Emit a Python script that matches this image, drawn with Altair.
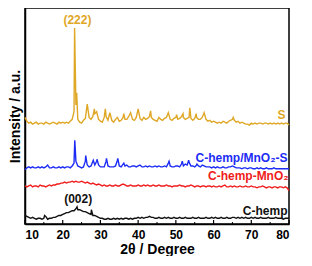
import altair as alt
import pandas as pd

# ---- data (heights in arbitrary intensity units) ----
X_GRID = [
    10.0, 10.5, 11.0, 11.5, 12.0, 12.5, 13.0, 13.5, 14.0, 14.5,
    15.0, 15.5, 16.0, 16.5, 17.0, 17.5, 18.0, 18.5, 19.0, 19.5,
    20.0, 20.5, 21.0, 21.5, 22.0, 22.5, 23.0, 23.5, 24.0, 24.5,
    25.0, 25.5, 26.0, 26.5, 27.0, 27.5, 28.0, 28.5, 29.0, 29.5,
    30.0, 30.5, 31.0, 31.5, 32.0, 32.5, 33.0, 33.5, 34.0, 34.5,
    35.0, 35.5, 36.0, 36.5, 37.0, 37.5, 38.0, 38.5, 39.0, 39.5,
    40.0, 40.5, 41.0, 41.5, 42.0, 42.5, 43.0, 43.5, 44.0, 44.5,
    45.0, 45.5, 46.0, 46.5, 47.0, 47.5, 48.0, 48.5, 49.0, 49.5,
    50.0, 50.5, 51.0, 51.5, 52.0, 52.5, 53.0, 53.5, 54.0, 54.5,
    55.0, 55.5, 56.0, 56.5, 57.0, 57.5, 58.0, 58.5, 59.0, 59.5,
    60.0, 60.5, 61.0, 61.5, 62.0, 62.5, 63.0, 63.5, 64.0, 64.5,
    65.0, 65.5, 66.0, 66.5, 67.0, 67.5, 68.0, 68.5, 69.0, 69.5,
    70.0, 70.5, 71.0, 71.5, 72.0, 72.5, 73.0, 73.5, 74.0, 74.5,
    75.0, 75.5, 76.0, 76.5, 77.0, 77.5, 78.0, 78.5, 79.0, 79.5,
    80.0,
]

C_HEMP = [
    9, 8, 7, 6, 7, 6, 5, 6, 6, 5,
    6, 8, 5, 6, 6, 7, 7, 8, 9, 9,
    10, 11, 12, 12, 13, 14, 14, 16, 15, 15,
    14, 13, 13, 12, 11, 10, 9, 9, 8, 7,
    6, 6, 5, 5, 6, 5, 5, 6, 5, 6,
    5, 6, 5, 6, 6, 5, 6, 5, 6, 6,
    7, 6, 7, 6, 7, 7, 8, 7, 7, 6,
    6, 7, 6, 6, 7, 6, 7, 6, 6, 7,
    6, 6, 7, 6, 6, 7, 6, 6, 6, 7,
    6, 6, 7, 6, 6, 6, 7, 6, 6, 7,
    6, 7, 6, 6, 7, 6, 6, 7, 6, 6,
    7, 7, 6, 7, 6, 7, 6, 7, 6, 6,
    7, 6, 7, 6, 6, 7, 6, 6, 6, 7,
    6, 6, 6, 7, 6, 6, 6, 5, 6, 6,
    6,
]
C_HEMP_PEAK_X = [15.2, 23.8, 27.6]
C_HEMP_PEAK_Y = [9, 18, 15]

C_HEMP_MNO2 = [
    40, 39, 40, 41, 39, 40, 40, 39, 41, 40,
    40, 39, 40, 41, 40, 41, 41, 42, 42, 43,
    43, 44, 43, 44, 44, 45, 44, 45, 44, 44,
    45, 44, 43, 44, 43, 42, 43, 42, 41, 42,
    41, 40, 41, 40, 40, 41, 40, 40, 41, 40,
    40, 41, 42, 41, 40, 40, 41, 40, 40, 40,
    41, 40, 40, 41, 40, 41, 40, 40, 41, 40,
    40, 41, 40, 40, 40, 41, 40, 40, 39, 40,
    40, 40, 41, 40, 40, 39, 40, 40, 41, 40,
    39, 40, 40, 39, 40, 40, 39, 40, 40, 39,
    40, 39, 39, 40, 39, 40, 41, 39, 39, 40,
    39, 40, 39, 39, 40, 39, 39, 40, 39, 39,
    40, 39, 39, 38, 39, 39, 40, 39, 38, 39,
    39, 38, 39, 39, 38, 39, 39, 38, 39, 38,
    35,
]

C_HEMP_MNO2_S = [
    57, 59, 60, 59, 60, 59, 59, 60, 59, 60,
    59, 60, 62, 59, 59, 60, 59, 59, 60, 59,
    60, 59, 60, 60, 59, 61, 64, 66, 61, 60,
    59, 60, 66, 62, 60, 61, 66, 62, 66, 62,
    60, 60, 60, 66, 61, 60, 60, 60, 61, 67,
    61, 60, 63, 61, 62, 60, 60, 61, 61, 60,
    61, 62, 60, 60, 61, 60, 61, 60, 60, 61,
    60, 61, 60, 60, 61, 60, 64, 61, 60, 60,
    61, 61, 60, 63, 61, 63, 62, 65, 61, 61,
    60, 62, 61, 60, 62, 61, 60, 60, 60, 59,
    60, 59, 60, 59, 59, 60, 59, 59, 60, 60,
    61, 60, 59, 59, 59, 58, 59, 59, 58, 59,
    59, 58, 58, 59, 58, 59, 58, 58, 59, 58,
    58, 58, 59, 58, 58, 58, 58, 58, 58, 58,
    58,
]
C_HEMP_MNO2_S_PEAK_X = [23.2, 26.1, 28.1, 29.1, 31.6, 34.6, 36.2, 48.2, 51.7, 53.4, 55.6]
C_HEMP_MNO2_S_PEAK_Y = [88, 72, 67, 68, 69, 69, 64, 66, 66, 67, 63]

SULFUR = [
    112, 108, 106, 107, 105, 106, 107, 105, 106, 106,
    105, 107, 106, 105, 106, 107, 106, 105, 107, 106,
    107, 106, 107, 106, 108, 110, 118, 125, 110, 107,
    106, 109, 111, 126, 112, 110, 113, 116, 118, 110,
    108, 107, 112, 113, 109, 117, 109, 107, 110, 112,
    108, 109, 112, 110, 110, 113, 117, 110, 109, 112,
    121, 111, 109, 112, 110, 111, 113, 112, 110, 109,
    108, 112, 110, 109, 111, 112, 117, 110, 109, 111,
    112, 110, 111, 113, 112, 110, 111, 112, 111, 109,
    111, 112, 110, 110, 112, 117, 110, 108, 109, 107,
    108, 107, 106, 107, 106, 108, 107, 106, 108, 109,
    110, 109, 107, 108, 106, 107, 106, 105, 105, 104,
    106, 105, 106, 105, 106, 106, 105, 106, 106, 105,
    106, 105, 106, 105, 106, 105, 106, 105, 106, 106,
    104,
]
SULFUR_PEAK_X = [23.15, 23.7, 28.4, 31.3, 36.2, 43.3, 50.2, 51.9, 53.7, 55.4, 65.2]
SULFUR_PEAK_Y = [206, 138, 121, 121, 116, 119, 115, 116, 122, 116, 112]

SERIES = ["C-hemp", "C-hemp-MnO2", "C-hemp/MnO2-S", "S"]
COLORS = ["#111111", "#f01c1c", "#1c2cf5", "#dfa726"]

TICKS_MAJOR = [10, 20, 30, 40, 50, 60, 70, 80]
TICKS_MINOR = [15, 25, 35, 45, 55, 65, 75]

LABEL_TEXT = ["(222)", "(002)", "S", "C-hemp/MnO\u2082-S", "C-hemp-MnO\u2082", "C-hemp"]
LABEL_X = [23.9, 24.1, 78.0, 79.6, 79.9, 79.6]
LABEL_Y = [214, 26, 115, 69, 50, 14]
LABEL_COLOR = ["#dfa726", "#111111", "#dfa726", "#1c2cf5", "#f01c1c", "#111111"]
LABEL_ALIGN = ["center", "center", "center", "right", "right", "right"]

# ---- build table ----
rows = []
def add(name, ys, px, py):
    for x, y in zip(X_GRID, ys):
        rows.append({"series": name, "x": x, "y": y})
    for x, y in zip(px, py):
        rows.append({"series": name, "x": x, "y": y})

add("C-hemp", C_HEMP, C_HEMP_PEAK_X, C_HEMP_PEAK_Y)
add("C-hemp-MnO2", C_HEMP_MNO2, [], [])
add("C-hemp/MnO2-S", C_HEMP_MNO2_S, C_HEMP_MNO2_S_PEAK_X, C_HEMP_MNO2_S_PEAK_Y)
add("S", SULFUR, SULFUR_PEAK_X, SULFUR_PEAK_Y)
df = pd.DataFrame(rows).sort_values(["series", "x"]).reset_index(drop=True)

W, H = 264, 216
FONT = "Liberation Sans"

xscale = alt.Scale(domain=[10, 80], nice=False, zero=False)
yscale = alt.Scale(domain=[0, 227], nice=False, zero=False)

X_AXIS = alt.Axis(title="2θ / Degree", values=TICKS_MAJOR, ticks=False,
                  domain=True, domainColor="black", domainWidth=1.5,
                  grid=False, labelPadding=5,
                  labelFont=FONT, labelFontSize=12, labelFontWeight="bold",
                  labelColor="black", titleFont=FONT, titleFontSize=14,
                  titleFontWeight="bold", titleColor="black", titlePadding=2)
Y_AXIS = alt.Axis(title="Intensity / a.u.", labels=False, ticks=False,
                  domain=True, domainColor="black", domainWidth=1.5,
                  grid=False, titleFont=FONT, titleFontSize=14,
                  titleFontWeight="bold", titleColor="black", titlePadding=3,
                  minExtent=0)

lines = alt.Chart(df).mark_line(strokeWidth=1.4).encode(
    x=alt.X("x:Q", scale=xscale, axis=X_AXIS),
    y=alt.Y("y:Q", scale=yscale, axis=Y_AXIS),
    color=alt.Color("series:N", scale=alt.Scale(domain=SERIES, range=COLORS), legend=None),
    detail="series:N",
)

major = alt.Chart(pd.DataFrame({"t": TICKS_MAJOR})).mark_rule(
    color="black", strokeWidth=1.2).encode(
    x=alt.X("t:Q", scale=xscale, axis=X_AXIS), y=alt.value(H), y2=alt.value(H - 4))
minor = alt.Chart(pd.DataFrame({"t": TICKS_MINOR})).mark_rule(
    color="black", strokeWidth=1.0).encode(
    x=alt.X("t:Q", scale=xscale, axis=X_AXIS), y=alt.value(H), y2=alt.value(H - 2))

text_layers = []
for t, x, y, c, a in zip(LABEL_TEXT, LABEL_X, LABEL_Y, LABEL_COLOR, LABEL_ALIGN):
    text_layers.append(
        alt.Chart(pd.DataFrame({"text": [t], "x": [x], "y": [y]})).mark_text(
            font=FONT, fontSize=12, fontWeight="bold", align=a,
            baseline="middle", color=c).encode(
            x=alt.X("x:Q", scale=xscale, axis=X_AXIS),
            y=alt.Y("y:Q", scale=yscale, axis=Y_AXIS),
            text="text:N")
    )

chart = alt.layer(lines, major, minor, *text_layers).properties(
    width=W, height=H,
    padding={"left": 0, "top": 0, "right": 2, "bottom": 0}
).configure_view(stroke="black", strokeWidth=1.5)

chart.save("out.html", embed_options={"renderer": "svg", "actions": False})
